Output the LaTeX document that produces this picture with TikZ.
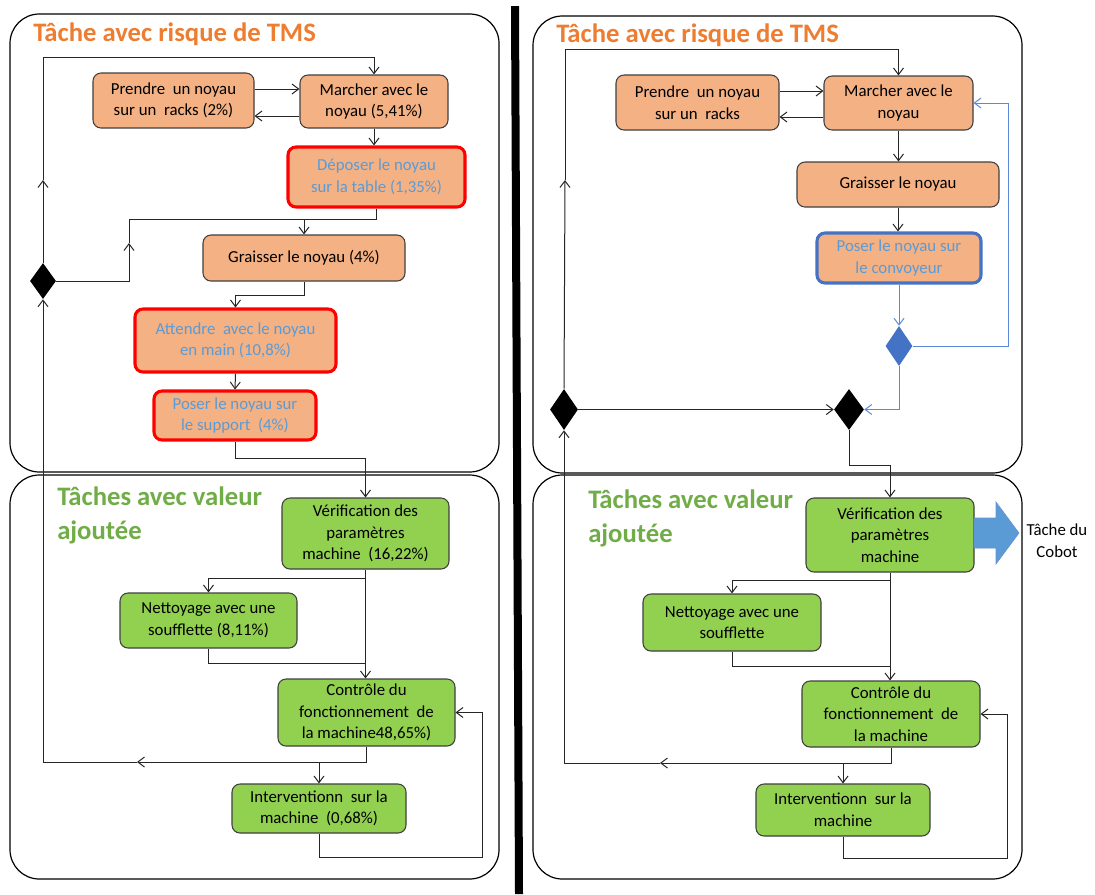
\documentclass[tikz,border=0pt]{standalone}
\usepackage{fontspec}
\setmainfont{Carlito}
\usetikzlibrary{arrows.meta,shapes.geometric}
\definecolor{orfill}{HTML}{F4B183}
\definecolor{grfill}{HTML}{92D050}
\definecolor{ortitle}{HTML}{ED7D31}
\definecolor{grtitle}{HTML}{70AD47}
\definecolor{bltext}{HTML}{5B9BD5}
\definecolor{blborder}{HTML}{4472C4}
\definecolor{blline}{HTML}{5B8BD8}
\definecolor{edgecol}{HTML}{404040}
\begin{document}
\begin{tikzpicture}[x=0.75pt,y=-0.75pt,
  every node/.style={font=\fontsize{12.6pt}{16.2pt}\selectfont, align=center, inner sep=0pt},
  wh/.style 2 args={minimum width=#1*0.75pt, minimum height=#2*0.75pt},
  task/.style={draw=edgecol, line width=0.8pt, rounded corners=6pt},
  risk/.style={task, fill=orfill},
  valtask/.style={task, fill=grfill},
  redtask/.style={risk, draw=red, line width=2.3pt, text=bltext},
  bluetask/.style={risk, draw=blborder, line width=2.3pt, text=bltext},
  dec/.style={diamond, fill=black, draw=none, inner sep=0pt},
  bdec/.style={diamond, fill=blborder, draw=none, inner sep=0pt},
  arr/.style={-{Straight Barb[length=5pt,width=7.5pt]}, line width=0.75pt, draw=black!85},
  ln/.style={line width=0.75pt, draw=black!85},
  barr/.style={arr, draw=blline},
  bln/.style={ln, draw=blline},
  panel/.style={draw=black, line width=0.9pt, rounded corners=22pt},
  ttl/.style={font=\fontsize{20pt}{25.5pt}\selectfont\bfseries, anchor=west, align=left}
]
\useasboundingbox (0,0) rectangle (1095,894);
\fill[white] (0,0) rectangle (1095,894);

% panels
\draw[panel] (10,14) rectangle (499,472);
\draw[panel] (10,475) rectangle (499,879);
\draw[panel] (533,16) rectangle (1022,473);
\draw[panel] (533,475) rectangle (1022,879);
\fill[black] (511,6) -- (519,6) -- (523,894) -- (515,894) -- cycle;

% titles
\node[ttl, text=ortitle] (Lt1) at (33,34) {Tâche avec risque de TMS};
\node[ttl, text=grtitle] (Lt2) at (57,515) {Tâches avec valeur\\ajoutée};
\node[ttl, text=ortitle] (Rt1) at (556,35) {Tâche avec risque de TMS};
\node[ttl, text=grtitle] (Rt2) at (588,518.5) {Tâches avec valeur\\ajoutée};

% ===== LEFT =====
\node[risk, wh={161}{55}] (Lprendre) at (173.5,100.5) {Prendre~ un noyau\\sur un~ racks (2\%)};
\node[risk, wh={148}{53}] (Lmarcher) at (374,101.5) {Marcher avec le\\noyau (5,41\%)};
\node[redtask, wh={177}{60}] (Ldeposer) at (376.5,177) {Déposer le noyau\\sur la table (1,35\%)};
\node[risk, wh={202}{46}] (Lgraisser) at (304,258) {Graisser le noyau (4\%)};
\node[redtask, wh={201}{63}] (Lattendre) at (235.5,340.5) {Attendre~ avec le noyau\\en main (10,8\%)};
\node[redtask, wh={162}{49}] (Lposer) at (235,415.5) {Poser le noyau sur\\le support~ (4\%)};
\node[dec, wh={26}{36}] (Ldia) at (43,281) {};
\node[valtask, wh={167}{71}] (Lverif) at (365.5,533.5) {Vérification des\\paramètres\\machine~ (16,22\%)};
\node[valtask, wh={177}{55}] (Lnett) at (208.5,620.5) {Nettoyage avec une\\soufflette (8,11\%)};
\node[valtask, wh={177}{67}] (Lctrl) at (366.5,712.5) {Contrôle du\\fonctionnement~ de\\la machine48,65\%)};
\node[valtask, wh={174}{49}] (Linterv) at (319,808.5) {Interventionn~ sur la\\machine~ (0,68\%)};

\coordinate (Lj1) at (129,219);
\coordinate (Lm1) at (129,243);
\coordinate (Lm2) at (43,180);
\coordinate (Lm3) at (137,762);

\draw[arr] (Lprendre.east |- 0,89) -- (Lmarcher.west |- 0,89);
\draw[arr] (Lmarcher.west |- 0,116) -- (Lprendre.east |- 0,116);
\draw[arr] (Lmarcher.south) -- (Lmarcher.south |- Ldeposer.north);
\draw[ln] (Ldeposer.south) |- (Lj1);
\draw[arr] (Lgraisser.north |- Lj1) -- (Lgraisser.north);
\draw[arr] (Ldia.east) -| (Lm1);
\draw[ln] (Lm1) -- (Lj1);
\draw[arr] (Ldia.north) -- (Lm2);
\draw[arr] (Lm2) |- (Lmarcher.north |- 0,57) -- (Lmarcher.north);
\draw[arr] (Lgraisser.south) -- ++(0,14) -| (Lattendre.north);
\draw[arr] (Lattendre.south) -- (Lposer.north);
\draw[arr] (Lposer.south) -- ++(0,17) -| (Lverif.north);
\draw[arr] (Lverif.south) -- ++(0,9) -| (Lnett.north);
\draw[arr] (Lverif.south) -- (Lverif.south |- Lctrl.north);
\draw[ln] (Lnett.south) |- (Lverif.south |- 0,663);
\draw[arr] (Lctrl.south) |- (Lm3);
\draw[arr] (Lm3) -| (Ldia.south);
\draw[arr] (Linterv.north |- Lm3) -- (Linterv.north);
\draw[arr] (Linterv.south) |- (482,857) |- (Lctrl.east);

% ===== RIGHT =====
\node[risk, wh={163}{55}] (Rprendre) at (697.5,102.5) {Prendre~ un noyau\\sur un~ racks};
\node[risk, wh={149}{54}] (Rmarcher) at (898.5,103) {Marcher avec le\\noyau};
\node[risk, wh={202}{45}] (Rgraisser) at (898,184.5) {Graisser le noyau};
\node[bluetask, wh={164}{50}] (Rposer) at (899,258) {Poser le noyau sur\\le convoyeur};
\node[bdec, wh={27}{40}] (Rbdia) at (899,346) {};
\node[dec, wh={30}{41}] (Rdia2) at (849,409.5) {};
\node[dec, wh={28}{41}] (Rdia1) at (564,409.5) {};
\node[valtask, wh={168}{74}] (Rverif) at (890,535) {Vérification des\\paramètres\\machine};
\node[valtask, wh={178}{57}] (Rnett) at (732,622.5) {Nettoyage avec une\\soufflette};
\node[valtask, wh={178}{66}] (Rctrl) at (891,714) {Contrôle du\\fonctionnement~ de\\la machine};
\node[valtask, wh={174}{52}] (Rinterv) at (843,810) {Interventionn~ sur la\\machine};

\fill[bltext, draw=blborder!80, line width=0.4pt] (974,518) -- (996,518) -- (996,502) -- (1019,533) -- (996,564) -- (996,548) -- (974,548) -- cycle;
\node (Rcobot) at (1057,541) {Tâche du\\Cobot};

\coordinate (Rm2) at (565,180);
\coordinate (Rm3) at (660,763);

\draw[arr] (Rprendre.east |- 0,91) -- (Rmarcher.west |- 0,91);
\draw[arr] (Rmarcher.west |- 0,117) -- (Rprendre.east |- 0,117);
\draw[arr] (Rdia1.north) -- (Rm2);
\draw[arr] (Rm2) |- (Rmarcher.north |- 0,49) -- (Rmarcher.north);
\draw[arr] (Rmarcher.south) -- (Rmarcher.south |- Rgraisser.north);
\draw[arr] (Rgraisser.south) -- (Rgraisser.south |- Rposer.north);
\draw[barr] (Rposer.south) -- (Rbdia.north);
\draw[barr] (Rbdia.east) -| (1008,103) -- (Rmarcher.east);
\draw[barr] (Rbdia.south) |- (Rdia2.east);
\draw[arr] (Rdia1.east) -- (Rdia2.west);
\draw[arr] (Rdia2.south) -- (849,465) -| (Rverif.north);
\draw[arr] (Rverif.south) -- ++(0,8) -| (Rnett.north);
\draw[arr] (Rverif.south) -- (Rverif.south |- Rctrl.north);
\draw[ln] (Rnett.south) |- (Rverif.south |- 0,666);
\draw[arr] (Rctrl.south) |- (Rm3);
\draw[arr] (Rm3) -| (Rdia1.south);
\draw[arr] (Rinterv.north |- Rm3) -- (Rinterv.north);
\draw[arr] (Rinterv.south) |- (1007,858) |- (Rctrl.east);
\end{tikzpicture}
\end{document}
